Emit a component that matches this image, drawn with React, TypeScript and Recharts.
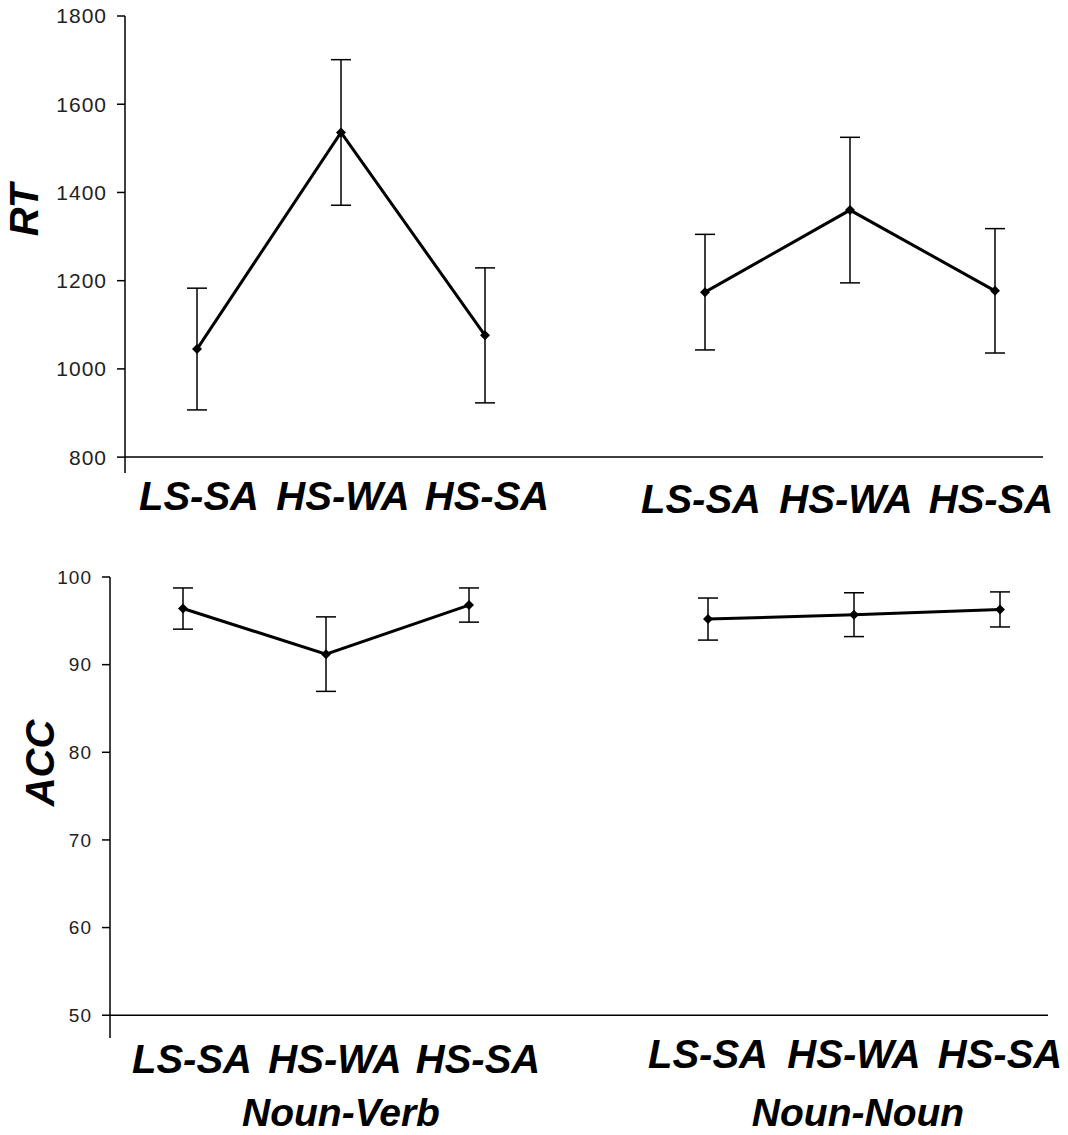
import React from 'react';
import {
  LineChart,
  Line,
  XAxis,
  YAxis,
  ErrorBar,
  ReferenceLine,
  Label,
} from 'recharts';

const conditions = ['LS-SA', 'HS-WA', 'HS-SA'];
const groups = ['Noun-Verb', 'Noun-Noun'];

const rtNounVerb = [1045, 1536, 1076];
const rtNounVerbErr = [138, 165, 153];
const rtNounNoun = [1174, 1360, 1177];
const rtNounNounErr = [131, 165, 141];

const accNounVerb = [96.4, 91.2, 96.8];
const accNounVerbErr = [2.35, 4.25, 1.95];
const accNounNoun = [95.2, 95.7, 96.3];
const accNounNounErr = [2.4, 2.5, 2.0];

const rtTicks = [800, 1000, 1200, 1400, 1600, 1800];
const accTicks = [50, 60, 70, 80, 90, 100];

const FONT = '"Liberation Sans", Arial, Helvetica, sans-serif';

const toRows = (means: number[], errs: number[]) =>
  conditions.map((cond, i) => ({ cond, mean: means[i], err: errs[i] }));

const Diamond = (props: any) => {
  const { cx, cy, index } = props;
  if (cx == null || cy == null) return null;
  const r = 5;
  return (
    <polygon
      key={`d-${index}`}
      points={`${cx},${cy - r} ${cx + r},${cy} ${cx},${cy + r} ${cx - r},${cy}`}
      fill="#000"
    />
  );
};

const XTick = (props: any) => {
  const { x, y, payload, index, labelDx, labelDy, group, groupDy, groupDx } = props;
  return (
    <g>
      <text
        x={x + (labelDx || 0)}
        y={y + labelDy}
        textAnchor="middle"
        fontSize={40}
        fontWeight="bold"
        fontStyle="italic"
        fontFamily={FONT}
        fill="#000"
      >
        {payload.value}
      </text>
      {group && index === 1 && (
        <text
          x={x + groupDx}
          y={y + groupDy}
          textAnchor="middle"
          fontSize={39}
          fontWeight="bold"
          fontStyle="italic"
          fontFamily={FONT}
          fill="#000"
        >
          {group}
        </text>
      )}
    </g>
  );
};

const yTitle = (text: string, cx: number, cy: number) => () => (
  <text
    x={cx}
    y={cy}
    transform={`rotate(-90, ${cx}, ${cy})`}
    textAnchor="middle"
    dominantBaseline="central"
    fontSize={40}
    fontWeight="bold"
    fontStyle="italic"
    fontFamily={FONT}
    fill="#000"
  >
    {text}
  </text>
);

interface PanelProps {
  left: number;
  top: number;
  width: number;
  height: number;
  data: { cond: string; mean: number; err: number }[];
  domain: [number, number];
  ticks: number[];
  base: number;
  marginTop: number;
  marginRight: number;
  xAxisHeight: number;
  padding: { left: number; right: number };
  yAxisWidth?: number;
  yTickSize?: number;
  title?: { text: string; x: number; y: number };
  labelDx?: number;
  labelDy: number;
  group?: string;
  groupDy?: number;
  groupDx?: number;
}

function Panel(p: PanelProps) {
  const showY = !!p.yAxisWidth;
  return (
    <div style={{ position: 'absolute', left: p.left, top: p.top }}>
      <LineChart
        width={p.width}
        height={p.height}
        data={p.data}
        margin={{ top: p.marginTop, right: p.marginRight, left: 0, bottom: 0 }}
      >
        <XAxis
          dataKey="cond"
          scale="point"
          padding={p.padding}
          axisLine={false}
          tickLine={false}
          tickSize={0}
          tickMargin={0}
          interval={0}
          height={p.xAxisHeight}
          tick={
            <XTick
              labelDx={p.labelDx}
              labelDy={p.labelDy}
              group={p.group}
              groupDy={p.groupDy}
              groupDx={p.groupDx}
            />
          }
        />
        <YAxis
          type="number"
          domain={p.domain}
          ticks={p.ticks}
          allowDataOverflow
          hide={!showY}
          width={p.yAxisWidth ?? 0}
          axisLine={{ stroke: '#000', strokeWidth: 1.5 }}
          tickLine={{ stroke: '#000', strokeWidth: 1.5 }}
          tickSize={8}
          tickMargin={10}
          tick={{ fontSize: p.yTickSize, fill: '#222', fontFamily: FONT, letterSpacing: 1 }}
        >
          {p.title && <Label content={yTitle(p.title.text, p.title.x, p.title.y)} />}
        </YAxis>
        <ReferenceLine y={p.base} stroke="#000" strokeWidth={1.5} />
        <Line
          type="linear"
          dataKey="mean"
          stroke="#000"
          strokeWidth={3}
          dot={Diamond}
          activeDot={false}
          isAnimationActive={false}
        >
          <ErrorBar
            dataKey="err"
            direction="y"
            width={10}
            stroke="#000"
            strokeWidth={1.5}
            isAnimationActive={false}
          />
        </Line>
      </LineChart>
    </div>
  );
}

export default function App() {
  return (
    <div
      style={{
        position: 'absolute',
        left: 0,
        top: 0,
        width: 1068,
        height: 1135,
        background: '#fff',
        overflow: 'hidden',
      }}
    >
      {/* RT row */}
      <Panel
        left={0}
        top={0}
        width={595}
        height={530}
        data={toRows(rtNounVerb, rtNounVerbErr)}
        domain={[764, 1800]}
        ticks={rtTicks}
        base={800}
        marginTop={16}
        marginRight={0}
        xAxisHeight={57}
        padding={{ left: 72, right: 110 }}
        yAxisWidth={125}
        yTickSize={21}
        title={{ text: 'RT', x: 24, y: 210 }}
        labelDx={2}
        labelDy={37}
      />
      <Panel
        left={595}
        top={0}
        width={473}
        height={530}
        data={toRows(rtNounNoun, rtNounNounErr)}
        domain={[764, 1800]}
        ticks={rtTicks}
        base={800}
        marginTop={16}
        marginRight={25}
        xAxisHeight={57}
        padding={{ left: 110, right: 48 }}
        labelDx={-4}
        labelDy={40}
      />

      {/* ACC row */}
      <Panel
        left={0}
        top={540}
        width={590}
        height={595}
        data={toRows(accNounVerb, accNounVerbErr)}
        domain={[47.4, 100]}
        ticks={accTicks}
        base={50}
        marginTop={37}
        marginRight={0}
        xAxisHeight={97}
        padding={{ left: 73, right: 121 }}
        yAxisWidth={110}
        yTickSize={19}
        title={{ text: 'ACC', x: 40, y: 223 }}
        labelDx={9}
        labelDy={35}
        group={groups[0]}
        groupDy={88}
        groupDx={15}
      />
      <Panel
        left={590}
        top={540}
        width={478}
        height={595}
        data={toRows(accNounNoun, accNounNounErr)}
        domain={[47.4, 100]}
        ticks={accTicks}
        base={50}
        marginTop={37}
        marginRight={20}
        xAxisHeight={97}
        padding={{ left: 118, right: 48 }}
        labelDy={30}
        group={groups[1]}
        groupDy={88}
        groupDx={4}
      />
    </div>
  );
}
